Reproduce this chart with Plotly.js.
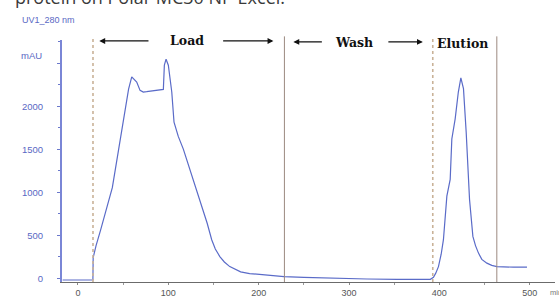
<!DOCTYPE html>
<html>
<head>
<meta charset="utf-8">
<script src="https://cdn.plot.ly/plotly-3.0.1.min.js"></script>
<style>html,body{margin:0;padding:0;background:#fff;}#chart{width:559px;height:298px;}</style>
</head>
<body>
<div id="chart"></div>
<script>
// Chromatogram (UV1_280 nm) — time (min) vs absorbance (mAU)
const timeMin = [-17, 16.5, 16.8, 18, 20, 25, 30, 38, 45, 52, 56, 59.5, 61.2, 63, 65, 68.7, 72.3, 76, 79.7, 84, 88.9, 92, 94.5, 95.6, 97.5, 100, 102, 103.8, 106.3, 111, 116.6, 124, 130.7, 137, 143, 148, 152, 157, 162, 168, 175, 180, 190, 205, 228, 250, 279, 320, 353, 390, 393.5, 396, 399, 402, 404.5, 408.3, 412, 413.8, 417.5, 421, 423.8, 426.7, 429.7, 433.4, 437.1, 440, 443.3, 447, 452.6, 458, 463.7, 472, 482, 497];
const absMAU  = [-20, -20, 240, 300, 380, 560, 750, 1054, 1500, 1971, 2200, 2342, 2322, 2300, 2283, 2185, 2166, 2170, 2174, 2178, 2185, 2190, 2197, 2478, 2548, 2478, 2300, 2166, 1815, 1650, 1502, 1268, 1054, 850, 640, 448, 340, 253, 190, 136, 95, 75, 55, 39, 19, 10, 0, -8, -12, -12, 12, 60, 136, 280, 449, 956, 1151, 1620, 1854, 2166, 2330, 2205, 1698, 917, 487, 380, 293, 220, 176, 150, 136, 130, 129, 129];

const phaseBoundaries = [16.6, 228.5, 392.7, 463.6];
const phaseNames = ['Load', 'Wash', 'Elution'];
const phaseLabelX = [120.4, 305.6, 425.6];

const xTickVals = [0, 100, 200, 300, 400, 500];
const xTickText = ['0', '100', '200', '300', '400', '500'];
const yTickVals = [0, 500, 1000, 1500, 2000, 2500];
const yTickText = ['0', '500', '1000', '1500', '2000', ''];

const blue = '#5a6bc8';

const trace = {
  x: timeMin, y: absMAU, type: 'scatter', mode: 'lines',
  line: {color: blue, width: 1.2}, hoverinfo: 'skip'
};

const shapes = phaseBoundaries.map((b, i) => ({
  type: 'line', xref: 'x', yref: 'paper', x0: b, x1: b, y0: 0, y1: 1.015,
  line: i % 2 === 0 ? {color: '#c9b298', width: 1.6, dash: 'dot'} : {color: '#9c8a80', width: 1}
}));

const serif = {family: 'DejaVu Serif', size: 12.5, color: '#111'};
const labelY = [0.996, 0.989, 0.986];
const annotations = phaseNames.map((n, i) => ({
  xref: 'x', yref: 'paper', x: phaseLabelX[i], y: labelY[i],
  text: '<b>' + n + '</b>', showarrow: false, font: serif, xanchor: 'center', yanchor: 'middle'
}));

function arrow(head, tail, y) {
  return {xref: 'x', yref: 'paper', x: head, y: y, axref: 'x', ax: tail, ayref: 'pixel', ay: 0,
    text: '', showarrow: true, arrowhead: 2, arrowsize: 0.9, arrowwidth: 1.3, arrowcolor: '#111', standoff: 0};
}
annotations.push(arrow(23.6, 79.7, 0.996));
annotations.push(arrow(216.3, 159, 0.996));
annotations.push(arrow(238.4, 271.6, 0.992));
annotations.push(arrow(381.7, 341.9, 0.992));

annotations.push({xref: 'paper', yref: 'paper', x: -0.0994, y: 1.12, xanchor: 'left', yanchor: 'bottom',
  text: 'protein on Polar MC30 NP Excel.', showarrow: false,
  font: {family: 'Open Sans', size: 18, color: '#3a3a3a'}});
annotations.push({xref: 'paper', yref: 'paper', x: -0.0852, y: 1.083, xanchor: 'left', yanchor: 'middle',
  text: 'UV1_280 nm', showarrow: false, font: {family: 'Liberation Sans', size: 9, color: '#5a68c4'}});
annotations.push({xref: 'paper', yref: 'paper', x: -0.061, y: 0.934, xanchor: 'center', yanchor: 'middle',
  text: 'mAU', showarrow: false, font: {family: 'Liberation Sans', size: 9.5, color: '#5a68c4'}});
annotations.push({xref: 'paper', yref: 'paper', x: 0.985, y: -0.045, xanchor: 'left', yanchor: 'middle',
  text: 'min', showarrow: false, font: {family: 'Liberation Sans', size: 7.5, color: '#777'}});

const layout = {
  width: 559, height: 298,
  margin: {l: 62, r: 4, t: 40, b: 16, pad: 0},
  paper_bgcolor: '#fff', plot_bgcolor: '#fff',
  showlegend: false,
  xaxis: {
    range: [-17.7, 528], showgrid: false, zeroline: false,
    showline: true, linecolor: '#6b6b6b', linewidth: 1,
    tickmode: 'array', tickvals: xTickVals, ticktext: xTickText,
    ticks: 'outside', ticklen: 2, tickcolor: '#888',
    minor: {dtick: 50, tick0: 0, ticks: 'outside', ticklen: 2, tickcolor: '#999'},
    tickfont: {family: 'Liberation Sans', size: 9, color: '#555'},
    ticklabelstandoff: 0
  },
  yaxis: {
    range: [-43, 2771], showgrid: false, zeroline: false,
    showline: true, linecolor: '#7a86d6', linewidth: 2,
    tickmode: 'array', tickvals: yTickVals, ticktext: yTickText,
    ticks: 'outside', ticklen: 3, tickcolor: '#6a78cc',
    minor: {dtick: 250, tick0: 0, ticks: 'outside', ticklen: 2, tickcolor: '#6a78cc'},
    tickfont: {family: 'Liberation Sans', size: 9.5, color: '#5a68c4'},
    ticklabelstandoff: 12
  },
  shapes: shapes,
  annotations: annotations
};

Plotly.newPlot('chart', [trace], layout, {staticPlot: true, displayModeBar: false});
</script>
</body>
</html>
